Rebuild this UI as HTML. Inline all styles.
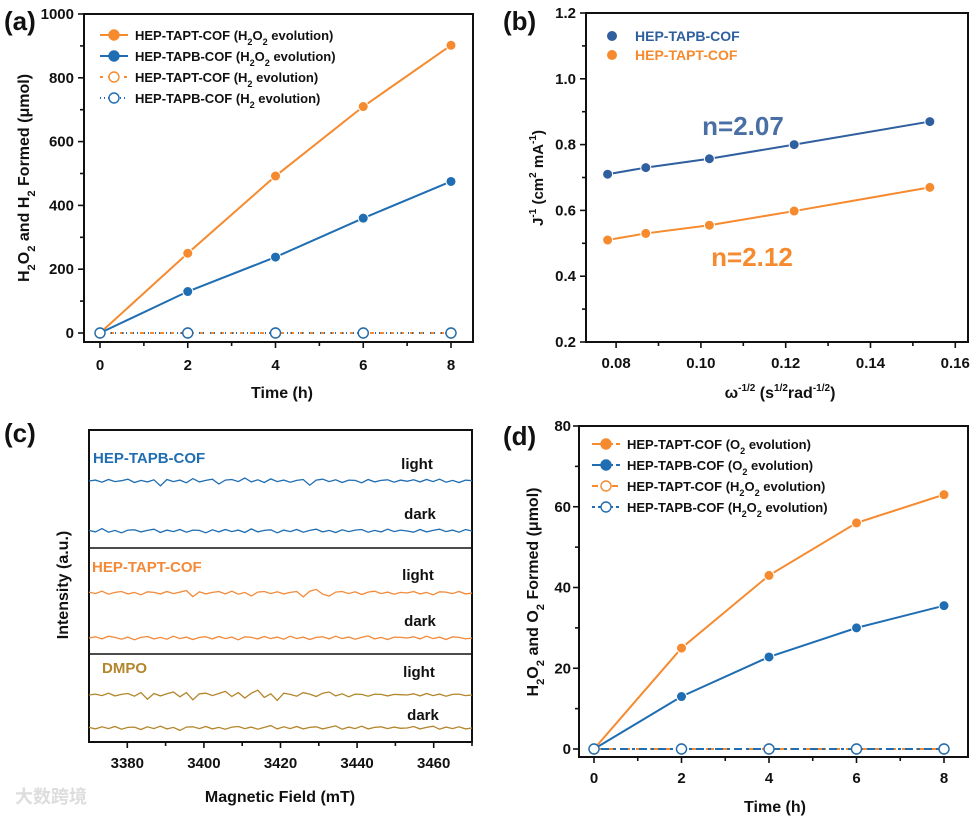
<!DOCTYPE html>
<html><head><meta charset="utf-8"><style>
body{margin:0;background:#fff}
svg{display:block;font-family:"Liberation Sans",Arial,sans-serif;font-weight:bold}
</style></head><body>
<svg id="s" width="976" height="818" viewBox="0 0 976 818" xmlns="http://www.w3.org/2000/svg"></svg>
<script>
const aTimes=[0,2,4,6,8];
const aTapt=[0,250,492,710,902];
const aTapb=[0,130,238,360,475];
const aH2=[0,0,0,0,0];
const aYTicks=[0,200,400,600,800,1000];
const bX=[0.078,0.087,0.102,0.122,0.154];
const bTapb=[0.71,0.73,0.757,0.80,0.87];
const bTapt=[0.51,0.53,0.555,0.598,0.67];
const bYTicks=[0.2,0.4,0.6,0.8,1.0,1.2];
const bXTicks=[0.08,0.10,0.12,0.14,0.16];
const cXTicks=[3380,3400,3420,3440,3460];
const cTapbLight=[0,0.3,-0.4,0.5,-0.2,0.1,0.6,-0.5,0.2,-0.3,0.4,-1.6,0.5,-0.2,0.3,-0.6,0.8,-0.3,0.2,0.6,-1,0.3,0.5,-0.2,1,-0.3,0.4,-0.5,0.7,-0.2,0.3,-0.4,0.2,0.5,-1.4,0.3,0.6,-0.2,0.4,-0.5,0.3,0.2,-0.6,0.5,-0.3,0.2,0.4,-0.4,0.3,-0.1,0.4,-0.3,0.5,-0.2,0.6,-0.4,0.2,-0.5,0.3,0.1];
const cTapbDark=[0.2,-0.3,0.8,-0.4,0.2,-0.6,0.3,0.4,-0.3,0.2,0.6,-0.5,0.3,-0.2,0.5,-0.4,0.3,0.2,-0.6,0.4,-0.3,0.5,-0.2,0.3,-0.5,0.7,-0.3,0.2,0.4,-0.6,0.3,-0.2,0.5,-0.4,0.2,0.6,-0.3,0.2,-0.5,0.4,-0.2,0.3,0.5,-0.4,0.2,-0.3,0.6,-0.2,0.3,0,-0.4,0.5,-0.3,0.2,0.6,-0.2,0.3,-0.4,0.5,0];
const cTaptLight=[0.3,-0.2,0.6,-0.4,0.2,0.5,-0.3,0.2,-0.6,0.4,0.2,-0.3,0.5,-0.2,0.3,0.8,-1.2,0.4,-0.3,0.2,0.5,-0.3,0.6,-0.4,0.2,-1,0.3,0.5,-0.2,0.4,-0.3,0.2,0.5,-1.3,0.6,1.2,-0.4,-1,0.3,0.5,-0.2,0.4,-0.5,0.3,0.6,-0.2,0.3,-0.4,0.2,0,0.5,-0.3,0.2,-0.6,0.4,0.3,-0.2,0.5,-0.3,0];
const cTaptDark=[0,0.4,-0.3,0.6,0.2,-0.4,0.3,-0.6,0.2,0.5,-0.3,0.2,-0.4,0.6,-0.2,0.3,-0.5,0.2,0.4,-0.3,0.5,-0.2,0.3,-0.6,0.4,0.2,-0.3,0.5,-0.2,0.3,-0.4,0.6,-0.2,0.3,-0.5,0.2,0.4,-0.3,0.6,-0.2,0.3,-0.4,0.2,0.7,-0.3,0.2,-0.5,0.3,0.2,0,0.4,-0.3,0.6,-0.2,0.3,-0.5,0.4,0.2,-0.3,0];
const cDmpoLight=[0,0.3,-0.2,0.6,-0.3,0.2,0.5,-0.4,0.8,-1.4,0.5,-0.3,0.4,1,-0.6,0.8,-1.6,0.4,0.6,-0.2,0.5,1.2,-0.5,0.8,-1,0.6,1.6,-0.8,0.4,-1.8,0.6,0.2,-0.4,0.8,0.3,-0.5,0.6,1,-0.3,0.4,-0.6,0.3,0.2,-0.4,0.3,0.2,-0.3,0.2,0.1,0,0.4,-0.3,0.5,-0.2,0.3,-0.4,0.2,0.3,-0.2,0];
const cDmpoDark=[0.2,-0.3,0.4,-0.2,0.5,-0.4,0.2,0.3,-0.5,0.4,-0.2,0.6,-0.3,0.2,-0.8,0.3,0.4,-0.2,0.5,-0.3,0.2,-0.4,0.3,0.5,-0.2,0.3,-0.4,0.2,0.8,-0.3,0.4,-0.2,0.5,-0.3,0.2,0.4,-0.3,0.2,0.7,-0.4,0.3,-0.2,0.6,-0.3,0.2,0.4,-0.2,0.3,-0.1,0,0.5,-0.3,0.2,0.6,-0.4,0.3,-0.2,0.4,-0.3,0];
const dTapt=[0,25,43,56,63];
const dTapb=[0,13,22.8,30,35.5];
const dH2O2=[0,0,0,0,0];
const dYTicks=[0,20,40,60,80];

const NS="http://www.w3.org/2000/svg",S=document.getElementById('s');
const OR="#f68a2e",BL="#1f6db2";
function el(t,a,p){const e=document.createElementNS(NS,t);for(const k in a)e.setAttribute(k,a[k]);(p||S).appendChild(e);return e;}
function txt(x,y,s,o){o=o||{};const e=el('text',{x:x,y:y,'font-size':o.fs||15,'text-anchor':o.a||'middle',fill:o.c||'#111'});if(o.rot)e.setAttribute('transform',`rotate(-90 ${x} ${y})`);e.innerHTML=s;return e;}
function lin(x0,x1,d0,d1){return v=>x0+(v-d0)/(d1-d0)*(x1-x0);}
function box(x0,y0,x1,y1,n){const r=el('rect',{x:x0,y:y0,width:x1-x0,height:y1-y0,fill:'none',stroke:'#111','stroke-width':2});}
function tick(x1,y1,x2,y2){const l=el('line',{x1,y1,x2,y2,stroke:'#111','stroke-width':1.6});}
function poly(xs,ys,X,Y,col,dash,n){const p=el('polyline',{points:xs.map((v,i)=>X(v)+','+Y(ys[i])).join(' '),fill:'none',stroke:col,'stroke-width':2});if(dash)p.setAttribute('stroke-dasharray',dash);}
function dots(xs,ys,X,Y,col,open,n){xs.forEach((v,i)=>{const c=el('circle',{cx:X(v),cy:Y(ys[i]),r:5,fill:open?'#fff':col,stroke:open?col:'#fff','stroke-width':open?1.4:1});});}
const sub=s=>s.replace(/_(\d)/g,'<tspan font-size="0.7em" baseline-shift="sub">$1</tspan>');

// Panel a
{const X=lin(100,451,0,8),Y=lin(333,14,0,1000);
txt(4,30,'(a)',{fs:26,a:'start',n:'panel-a-label'});
box(84,14,473,342,'panel-a-frame');
aYTicks.forEach(v=>{tick(84,Y(v),78,Y(v));txt(74,Y(v)+5,v,{a:'end',n:'y-tick-label'});});
for(let v=100;v<1000;v+=200)tick(84,Y(v),80,Y(v));
aTimes.forEach(v=>{tick(X(v),342,X(v),348);txt(X(v),370,v,{n:'x-tick-label'});});
[1,3,5,7].forEach(v=>tick(X(v),342,X(v),346));
txt(282,398,'Time (h)',{fs:16,n:'x-axis-title'});
txt(29,178,sub('H_2O_2 and H_2 Formed (μmol)'),{fs:16,rot:1,n:'y-axis-title'});
poly(aTimes,aTapt,X,Y,OR,null,'line-tapt-h2o2');poly(aTimes,aTapb,X,Y,BL,null,'line-tapb-h2o2');
poly(aTimes,aH2,X,Y,OR,'4 6','line-tapt-h2');poly(aTimes,aH2,X,Y,BL,'1 3 1 6','line-tapb-h2');
dots(aTimes,aTapt,X,Y,OR,0,'point-tapt-h2o2');dots(aTimes,aTapb,X,Y,BL,0,'point-tapb-h2o2');
dots(aTimes,aH2,X,Y,OR,1,'point-tapt-h2');dots(aTimes,aH2,X,Y,BL,1,'point-tapb-h2');
[['HEP-TAPT-COF (H_2O_2 evolution)',OR,0,null],['HEP-TAPB-COF (H_2O_2 evolution)',BL,0,null],['HEP-TAPT-COF (H_2 evolution)',OR,1,'3 5'],['HEP-TAPB-COF (H_2 evolution)',BL,1,'1 3']].forEach((L,i)=>{const y=35+i*21;const l=el('line',{x1:100,x2:128,y1:y,y2:y,stroke:L[1],'stroke-width':2});if(L[3])l.setAttribute('stroke-dasharray',L[3]);const c=el('circle',{cx:114,cy:y,r:5,fill:L[2]?'#fff':L[1],stroke:L[1],'stroke-width':1.4});txt(135,y+5,sub(L[0]),{fs:13,a:'start',n:'legend-entry'});});}

// Panel b
{const X=lin(586,968,0.0729,0.1630),Y=lin(342,13,0.2,1.2);
txt(503,30,'(b)',{fs:26,a:'start',n:'panel-b-label'});
box(586,13,968,342,'panel-b-frame');
bYTicks.forEach(v=>{tick(586,Y(v),580,Y(v));txt(576,Y(v)+5,v.toFixed(1),{a:'end',n:'y-tick-label'});});
for(let v=0.3;v<1.2;v+=0.2)tick(586,Y(v),582,Y(v));
bXTicks.forEach(v=>{tick(X(v),342,X(v),348);txt(X(v),368,v.toFixed(2),{n:'x-tick-label'});});
[0.09,0.11,0.13,0.15].forEach(v=>tick(X(v),342,X(v),346));
txt(780,398,'ω<tspan font-size="10" dy="-7">-1/2</tspan><tspan dy="7"> (s</tspan><tspan font-size="10" dy="-7">1/2</tspan><tspan dy="7">rad</tspan><tspan font-size="10" dy="-7">-1/2</tspan><tspan dy="7">)</tspan>',{fs:16,n:'x-axis-title'});
txt(543,178,'J<tspan font-size="10" dy="-7">-1</tspan><tspan dy="7"> (cm</tspan><tspan font-size="10" dy="-7">2</tspan><tspan dy="7"> mA</tspan><tspan font-size="10" dy="-7">-1</tspan><tspan dy="7">)</tspan>',{fs:15,rot:1,n:'y-axis-title'});
poly(bX,bTapb,X,Y,'#2f5f9e',null,'fit-tapb');poly(bX,bTapt,X,Y,OR,null,'fit-tapt');
dots(bX,bTapb,X,Y,'#2f5f9e',0,'point-tapb');dots(bX,bTapt,X,Y,OR,0,'point-tapt');
txt(743,135,'n=2.07',{fs:26,c:'#4a6fa5',n:'annotation-tapb'});txt(752,266,'n=2.12',{fs:26,c:OR,n:'annotation-tapt'});
[['HEP-TAPB-COF','#2f5f9e',36],['HEP-TAPT-COF',OR,55]].forEach(L=>{const c=el('circle',{cx:612,cy:L[2],r:5,fill:L[1]});txt(635,L[2]+5,L[0],{fs:14,a:'start',c:L[1],n:'legend-entry'});});}

// Panel c
{const X=lin(89,472,3370,3470);
txt(4,442,'(c)',{fs:26,a:'start',n:'panel-c-label'});
box(89,430,472,742,'panel-c-frame');
[548,654].forEach(y=>{const l=el('line',{x1:89,x2:472,y1:y,y2:y,stroke:'#111','stroke-width':1.6});});
cXTicks.forEach(v=>{tick(X(v),742,X(v),748);txt(X(v),768,v,{n:'x-tick-label'});});
[3390,3410,3430,3450,3470].forEach(v=>tick(X(v),742,X(v),746));
txt(280,802,'Magnetic Field (mT)',{fs:16,n:'x-axis-title'});
txt(68,585,'Intensity (a.u.)',{fs:16,rot:1,n:'y-axis-title'});
const traces=[[cTapbLight,481,BL,'trace-tapb-light'],[cTapbDark,531,BL,'trace-tapb-dark'],[cTaptLight,593,'#f28a3a','trace-tapt-light'],[cTaptDark,638,'#f28a3a','trace-tapt-dark'],[cDmpoLight,695,'#b3862c','trace-dmpo-light'],[cDmpoDark,728,'#b3862c','trace-dmpo-dark']];
traces.forEach(t=>{const d=t[0],n=d.length;const p=el('polyline',{points:d.map((v,i)=>X(3370+i*100/(n-1))+','+(t[1]-v*3)).join(' '),fill:'none',stroke:t[2],'stroke-width':1.3});});
txt(93,463,'HEP-TAPB-COF',{fs:15,a:'start',c:BL,n:'series-label-tapb'});
txt(92,572,'HEP-TAPT-COF',{fs:15,a:'start',c:'#f28a3a',n:'series-label-tapt'});
txt(102,673,'DMPO',{fs:15,a:'start',c:'#b3862c',n:'series-label-dmpo'});
[[417,469,'light'],[420,519,'dark'],[418,580,'light'],[420,626,'dark'],[419,677,'light'],[423,720,'dark']].forEach(l=>txt(l[0],l[1],l[2],{fs:15,n:'condition-label'}));
txt(15,803,'大数跨境',{fs:18,a:'start',c:'#ddd',n:'watermark'}).setAttribute('font-family','"Liberation Sans","Noto Sans CJK SC",sans-serif');}

// Panel d
{const X=lin(594,944,0,8),Y=lin(749,426,0,80);
txt(503,445,'(d)',{fs:26,a:'start',n:'panel-d-label'});
box(579,426,968,757,'panel-d-frame');
dYTicks.forEach(v=>{tick(579,Y(v),573,Y(v));txt(571,Y(v)+5,v,{a:'end',n:'y-tick-label'});});
for(let v=10;v<80;v+=20)tick(579,Y(v),575,Y(v));
aTimes.forEach(v=>{tick(X(v),757,X(v),763);txt(X(v),783,v,{n:'x-tick-label'});});
[1,3,5,7].forEach(v=>tick(X(v),757,X(v),761));
txt(775,812,'Time (h)',{fs:16,n:'x-axis-title'});
txt(538,592,sub('H_2O_2 and O_2 Formed (μmol)'),{fs:16,rot:1,n:'y-axis-title'});
poly(aTimes,dTapt,X,Y,OR,null,'line-tapt-o2');poly(aTimes,dTapb,X,Y,BL,null,'line-tapb-o2');
poly(aTimes,dH2O2,X,Y,OR,'8 6','line-tapt-h2o2');poly(aTimes,dH2O2,X,Y,BL,'3 4 8 4','line-tapb-h2o2');
dots(aTimes,dTapt,X,Y,OR,0,'point-tapt-o2');dots(aTimes,dTapb,X,Y,BL,0,'point-tapb-o2');
dots(aTimes,dH2O2,X,Y,OR,1,'point-tapt-h2o2');dots(aTimes,dH2O2,X,Y,BL,1,'point-tapb-h2o2');
[['HEP-TAPT-COF (O_2 evolution)',OR,0,'9 3'],['HEP-TAPB-COF (O_2 evolution)',BL,0,'9 3'],['HEP-TAPT-COF (H_2O_2 evolution)',OR,1,'6 4'],['HEP-TAPB-COF (H_2O_2 evolution)',BL,1,'3 3']].forEach((L,i)=>{const y=444+i*21;const l=el('line',{x1:592,x2:620,y1:y,y2:y,stroke:L[1],'stroke-width':2,'stroke-dasharray':L[3]});const c=el('circle',{cx:606,cy:y,r:5,fill:L[2]?'#fff':L[1],stroke:L[1],'stroke-width':1.4});txt(627,y+5,sub(L[0]),{fs:13,a:'start',n:'legend-entry'});});}
</script>
</body></html>
